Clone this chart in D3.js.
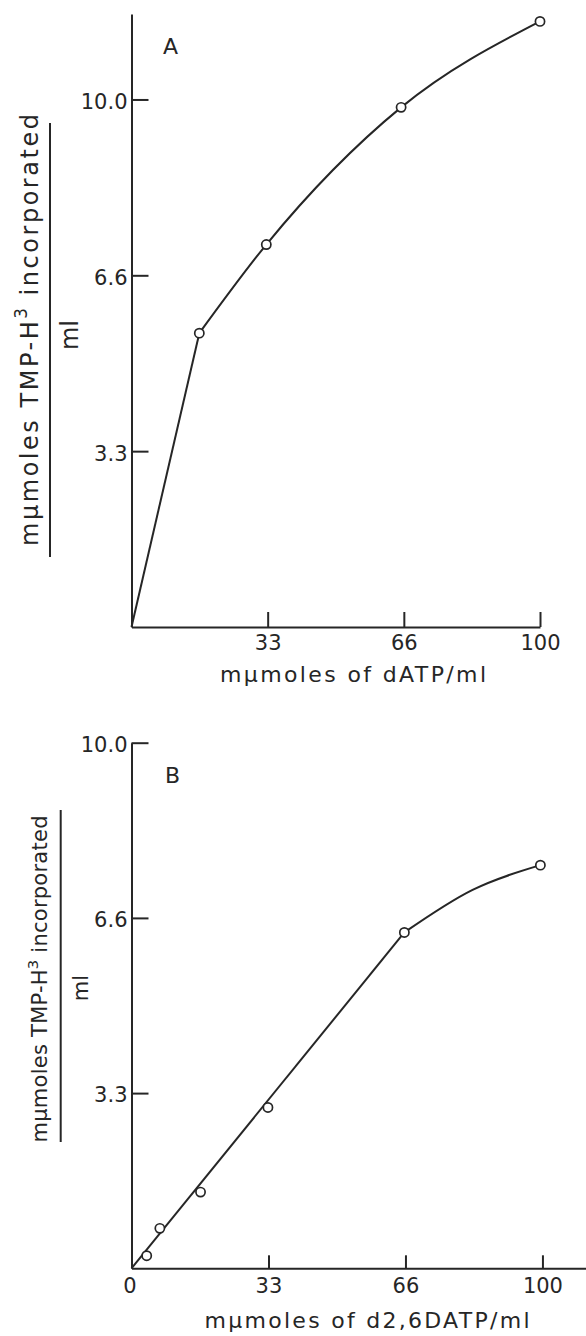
<!DOCTYPE html>
<html>
<head>
<meta charset="utf-8">
<script src="https://cdn.jsdelivr.net/npm/d3@7"></script>
<style>
  html, body { margin: 0; padding: 0; background: #fff; }
  svg { display: block; }
  text { font-family: "DejaVu Sans", sans-serif; fill: #262626; }
</style>
</head>
<body>
<svg id="chart" width="586" height="1336"></svg>
<script>
// Panel A: dATP series
const aX = [0, 16.6, 33, 66, 100];
const aY = [0, 5.57, 7.25, 9.85, 11.48];
// Panel B: d2,6DATP series
const bX = [3.7, 6.9, 16.8, 33.2, 66.4, 99.5];
const bY = [0.24, 0.76, 1.45, 3.06, 6.39, 7.67];
// Drawn curve for panel B (straight rise, then a bend toward the last point)
const bCurveX = [0, 66.4, 83, 99.5];
const bCurveY = [0, 6.39, 7.2, 7.67];

// Tick values and labels (ticks sit at thirds of the full scale)
const yTickValues = [10 / 3, 20 / 3, 10];
const yTickLabels = ["3.3", "6.6", "10.0"];
const xTickValuesA = [100 / 3, 200 / 3, 100];
const xTickLabelsA = ["33", "66", "100"];
const xTickValuesB = [0, 100 / 3, 200 / 3, 100];
const xTickLabelsB = ["0", "33", "66", "100"];

// Axis extents
const aYTop = 11.62;
const bXEnd = 110.6;

const ink = "#262626";
const svg = d3.select("#chart");

const yTitleMain = "mμmoles TMP-H";
const yTitleSup = "3";
const yTitleTail = " incorporated";
const yTitleDen = "ml";

function styleAxis(g) {
  g.attr("font-family", null).attr("font-size", null);
  g.selectAll("path.domain").attr("stroke", ink).attr("stroke-width", 2);
  g.selectAll(".tick line").attr("stroke", ink).attr("stroke-width", 2);
  g.selectAll(".tick text").attr("fill", ink).style("font-size", "21px");
}

function yTitle(xBase, yMid, len, fs, lineX, lineY0, lineY1, denX, denY) {
  const t = svg.append("text")
    .attr("transform", `translate(${xBase},${yMid}) rotate(-90)`)
    .attr("text-anchor", "middle")
    .attr("textLength", len)
    .attr("lengthAdjust", "spacing")
    .style("font-size", fs + "px");
  t.append("tspan").text(yTitleMain);
  t.append("tspan").attr("dy", -fs * 0.45).style("font-size", (fs * 0.7) + "px").text(yTitleSup);
  t.append("tspan").attr("dy", fs * 0.45).text(yTitleTail);
  svg.append("line")
    .attr("x1", lineX).attr("x2", lineX)
    .attr("y1", lineY0).attr("y2", lineY1)
    .attr("stroke", ink).attr("stroke-width", 2);
  svg.append("text")
    .attr("transform", `translate(${denX},${denY}) rotate(-90)`)
    .attr("text-anchor", "middle")
    .style("font-size", fs + "px")
    .text(yTitleDen);
}

const lineLin = (sx, sy) => d3.line().x(d => sx(d[0])).y(d => sy(d[1]));
const lineCurve = (sx, sy) => d3.line().x(d => sx(d[0])).y(d => sy(d[1])).curve(d3.curveMonotoneX);

// ---------- Panel A ----------
const xA = d3.scaleLinear().domain([0, 100]).range([131.5, 540]);
const yA = d3.scaleLinear().domain([0, aYTop]).range([627, 14]);

svg.append("g").attr("transform", `translate(${xA(0)},0)`)
  .call(d3.axisLeft(yA).tickValues(yTickValues)
    .tickFormat((d, i) => yTickLabels[i]).tickSize(-17).tickSizeOuter(0).tickPadding(4))
  .call(styleAxis)
  .call(g => g.selectAll(".tick text").attr("dy", "0.45em"));

svg.append("g").attr("transform", `translate(0,${yA(0)})`)
  .call(d3.axisBottom(xA).tickValues(xTickValuesA)
    .tickFormat((d, i) => xTickLabelsA[i]).tickSize(-15).tickSizeOuter(0).tickPadding(8))
  .call(styleAxis)
  .call(g => g.selectAll(".tick text").attr("y", 0).attr("dy", 23));

const ptsA = aX.map((x, i) => [x, aY[i]]);

svg.append("path").attr("d", lineLin(xA, yA)(ptsA.slice(0, 2)))
  .attr("fill", "none").attr("stroke", ink).attr("stroke-width", 2);
svg.append("path").attr("d", lineCurve(xA, yA)(ptsA.slice(1)))
  .attr("fill", "none").attr("stroke", ink).attr("stroke-width", 2);

svg.selectAll("circle.a").data(ptsA.slice(1)).enter().append("circle")
  .attr("class", "a")
  .attr("cx", d => xA(d[0])).attr("cy", d => yA(d[1])).attr("r", 4.6)
  .attr("fill", "#fff").attr("stroke", ink).attr("stroke-width", 1.7);

svg.append("text").attr("x", 170.5).attr("y", 54).attr("text-anchor", "middle")
  .style("font-size", "22px").text("A");

svg.append("text").attr("x", 353).attr("y", 682).attr("text-anchor", "middle")
  .attr("textLength", 266).attr("lengthAdjust", "spacing")
  .style("font-size", "22px").text("mμmoles of dATP/ml");

yTitle(38, 330, 432, 24, 50, 123, 557, 78, 335);

// ---------- Panel B ----------
const xB = d3.scaleLinear().domain([0, bXEnd]).range([131.5, 586]);
const yB = d3.scaleLinear().domain([0, 10]).range([1268.3, 742.7]);

svg.append("g").attr("transform", `translate(${xB(0)},0)`)
  .call(d3.axisLeft(yB).tickValues(yTickValues)
    .tickFormat((d, i) => yTickLabels[i]).tickSize(-17).tickSizeOuter(0).tickPadding(4))
  .call(styleAxis)
  .call(g => g.selectAll(".tick text").attr("dy", "0.4em"));

svg.append("g").attr("transform", `translate(0,${yB(0)})`)
  .call(d3.axisBottom(xB).tickValues(xTickValuesB)
    .tickFormat((d, i) => xTickLabelsB[i]).tickSize(-13).tickSizeOuter(0).tickPadding(8))
  .call(styleAxis)
  .call(g => g.selectAll(".tick text").attr("y", 0).attr("dy", 25))
  .call(g => g.selectAll(".tick").filter(d => d === 0).select("line").remove())
  .call(g => g.selectAll(".tick").filter(d => d === 0).select("text").attr("x", -2));

const curveB = bCurveX.map((x, i) => [x, bCurveY[i]]);
svg.append("path").attr("d", lineLin(xB, yB)(curveB.slice(0, 2)))
  .attr("fill", "none").attr("stroke", ink).attr("stroke-width", 2);
svg.append("path").attr("d", lineCurve(xB, yB)(curveB.slice(1)))
  .attr("fill", "none").attr("stroke", ink).attr("stroke-width", 2);

const ptsB = bX.map((x, i) => [x, bY[i]]);
svg.selectAll("circle.b").data(ptsB).enter().append("circle")
  .attr("class", "b")
  .attr("cx", d => xB(d[0])).attr("cy", d => yB(d[1])).attr("r", 4.6)
  .attr("fill", "#fff").attr("stroke", ink).attr("stroke-width", 1.7);

svg.append("text").attr("x", 172.5).attr("y", 783).attr("text-anchor", "middle")
  .style("font-size", "22px").text("B");

svg.append("text").attr("x", 367).attr("y", 1328).attr("text-anchor", "middle")
  .attr("textLength", 325).attr("lengthAdjust", "spacing")
  .style("font-size", "22px").text("mμmoles of d2,6DATP/ml");

yTitle(47, 979, 327, 21, 60.7, 810, 1142, 88, 988);
</script>
</body>
</html>
